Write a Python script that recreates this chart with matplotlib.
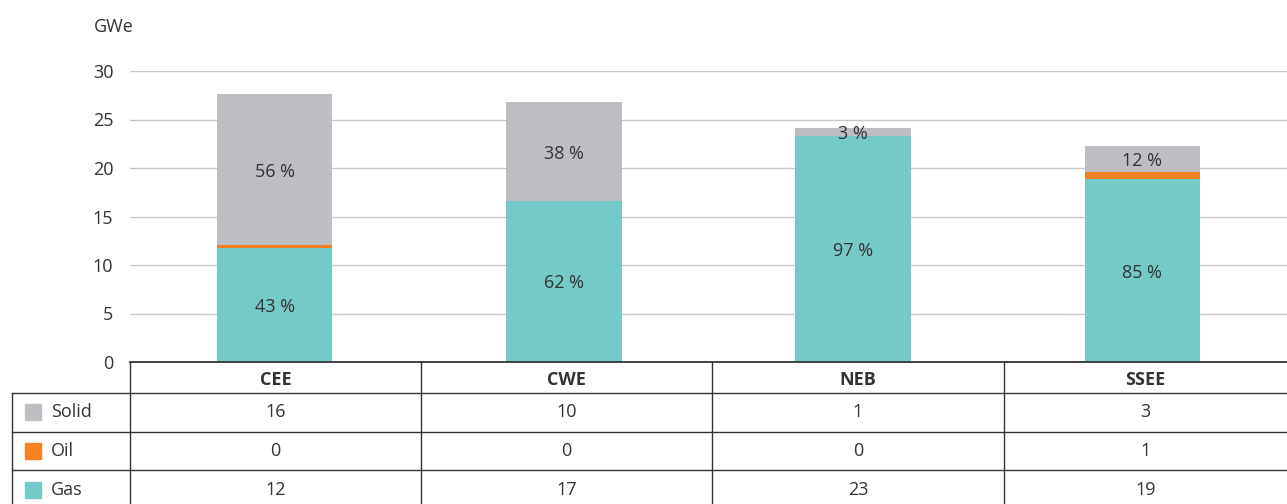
import matplotlib
matplotlib.use("Agg")
import matplotlib.pyplot as plt
from matplotlib.lines import Line2D
from matplotlib.patches import Rectangle

plt.rcParams["font.family"] = ["Open Sans", "DejaVu Sans"]

regions = ["CEE", "CWE", "NEB", "SSEE"]
gas = [11.8, 16.6, 23.3, 18.85]
oil = [0.25, 0.0, 0.0, 0.75]
solid = [15.55, 10.2, 0.8, 2.7]
gas_pct = ["43 %", "62 %", "97 %", "85 %"]
solid_pct = ["56 %", "38 %", "3 %", "12 %"]
table_rows = ["Solid", "Oil", "Gas"]
table_vals = [[16, 10, 1, 3], [0, 0, 0, 1], [12, 17, 23, 19]]

COL = {"Solid": "#bdbec2", "Oil": "#f58220", "Gas": "#74cac6"}
TXT = "#333333"
FS = 13
W, H = 1287, 504


def fx(px):
    return px / W


def fy(py):
    return 1 - py / H


fig = plt.figure(figsize=(W / 100, H / 100), dpi=100)
ax = fig.add_axes([fx(130), fy(362), fx(1287) - fx(130), fy(71) - fy(362)])
x = range(len(regions))
ax.bar(x, gas, width=0.4, color=COL["Gas"], zorder=3)
ax.bar(x, oil, width=0.4, bottom=gas, color=COL["Oil"], zorder=3)
base = [g + o for g, o in zip(gas, oil)]
ax.bar(x, solid, width=0.4, bottom=base, color=COL["Solid"], zorder=3)
for i in x:
    ax.text(i, gas[i] / 2, gas_pct[i], ha="center", va="center_baseline", fontsize=FS, color=TXT, zorder=4)
    ax.text(i, base[i] + solid[i] / 2, solid_pct[i], ha="center", va="center_baseline", fontsize=FS, color=TXT, zorder=4)
ax.set_xlim(-0.5, len(regions) - 0.5)
ax.set_ylim(0, 30)
ax.set_yticks(range(0, 31, 5))
ax.yaxis.grid(True, color="#c8c8c8", lw=1, zorder=0)
ax.tick_params(axis="y", length=0, pad=12, labelsize=FS, labelcolor=TXT)
ax.set_xticks([])
for s in ax.spines.values():
    s.set_visible(False)
fig.text(fx(94), fy(27), "GWe", ha="left", va="center", fontsize=FS, color=TXT)

# table under the chart
lc, lw = "#333333", 1.0
col_x = [130, 421, 712, 1004]
row_y = [393, 432, 470]
fig.add_artist(Line2D([fx(130), 1], [fy(362), fy(362)], color=lc, lw=1.3))
for cx in col_x:
    fig.add_artist(Line2D([fx(cx), fx(cx)], [fy(362), 0], color=lc, lw=lw))
fig.add_artist(Line2D([fx(12), fx(12)], [fy(393), 0], color=lc, lw=lw))
for ry in row_y:
    fig.add_artist(Line2D([fx(12), 1], [fy(ry), fy(ry)], color=lc, lw=lw))

centers = [(col_x[i] + (col_x[i + 1] if i + 1 < len(col_x) else 1287)) / 2 for i in range(len(col_x))]
for c, r in zip(centers, regions):
    fig.text(fx(c), fy(380), r, ha="center", va="center", fontsize=FS, fontweight="bold", color=TXT)
row_mid = [412, 451, 490]
for j, name in enumerate(table_rows):
    fig.add_artist(Rectangle((fx(25), fy(row_mid[j] + 8)), fx(16), fy(0) - fy(16),
                             color=COL[name], transform=fig.transFigure))
    fig.text(fx(51), fy(row_mid[j]), name, ha="left", va="center", fontsize=FS, color=TXT)
    for c, v in zip(centers, table_vals[j]):
        fig.text(fx(c), fy(row_mid[j]), str(v), ha="center", va="center", fontsize=FS, color=TXT)

fig.savefig("out.png", dpi=100)
